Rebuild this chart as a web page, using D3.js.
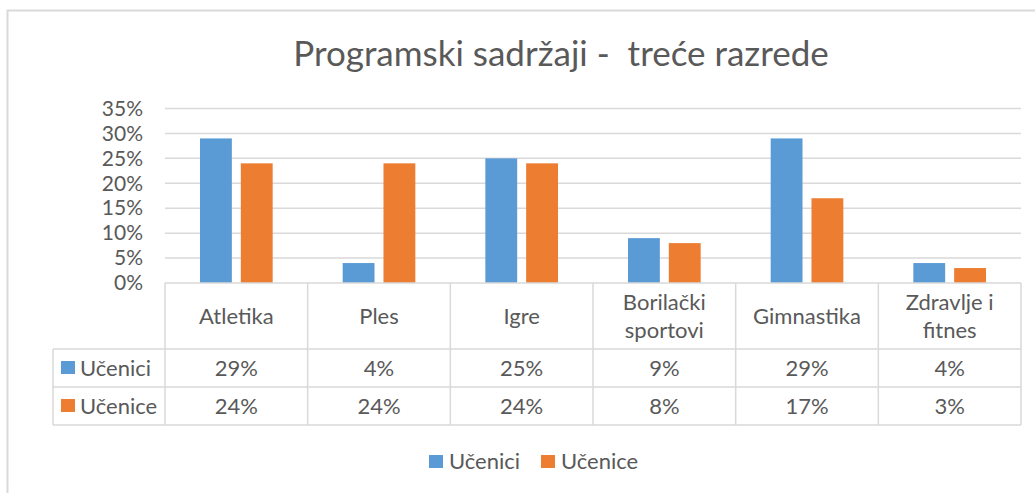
<!DOCTYPE html>
<html>
<head>
<meta charset="utf-8">
<script src="https://cdn.jsdelivr.net/npm/d3@7"></script>
<style>
  body { margin: 0; background: #fff; }
  text { font-family: Lato, "Open Sans", sans-serif; fill: #595959; }
</style>
</head>
<body>
<div id="container"></div>
<script>
const categories = ["Atletika", "Ples", "Igre", "Borilački sportovi", "Gimnastika", "Zdravlje i fitnes"]
const categoryLines = [["Atletika"], ["Ples"], ["Igre"], ["Borilački", "sportovi"], ["Gimnastika"], ["Zdravlje i", "fitnes"]]
const series = ["Učenici", "Učenice"]
const ucenici = [0.29, 0.04, 0.25, 0.09, 0.29, 0.04]
const ucenice = [0.24, 0.24, 0.24, 0.08, 0.17, 0.03]
const yTicks = [0, 0.05, 0.10, 0.15, 0.20, 0.25, 0.30, 0.35]
const colors = ["#5B9BD5", "#ED7D31"]

const width = 1035, height = 493
const grid = "#d9d9d9"
const plot = { left: 165, right: 1021, top: 108.5, bottom: 283 }
const rows = { header: 349, r1: 387, r2: 425, legendLeft: 53 }
const fontSize = 22

const values = [ucenici, ucenice]
const color = d3.scaleOrdinal().domain(series).range(colors)
const fmt = d3.format(".0%")

const svg = d3.select("#container").append("svg")
    .attr("width", width)
    .attr("height", height)

// outer chart border (left and top visible)
svg.append("path")
    .attr("d", `M${width},10.5 H7.5 V${height}`)
    .attr("fill", "none")
    .attr("stroke", grid)
    .attr("stroke-width", 2)

svg.append("text")
    .attr("x", 561)
    .attr("y", 54)
    .attr("dy", "0.35em")
    .attr("text-anchor", "middle")
    .attr("font-size", 35)
    .style("white-space", "pre")
    .text("Programski sadržaji -  treće razrede")

const y = d3.scaleLinear().domain([0, 0.35]).range([plot.bottom, plot.top])
const x0 = d3.scaleBand().domain(categories).range([plot.left, plot.right])
const x1 = d3.scaleBand().domain(series).range([35, x0.bandwidth() - 35]).paddingInner(0.22)

// gridlines
svg.append("g")
    .selectAll("line")
    .data(yTicks.filter(d => d > 0))
    .join("line")
    .attr("x1", plot.left)
    .attr("x2", plot.right)
    .attr("y1", d => y(d))
    .attr("y2", d => y(d))
    .attr("stroke", grid)
    .attr("stroke-width", 1.5)

const yAxis = svg.append("g")
    .attr("transform", `translate(${plot.left},0)`)
    .call(d3.axisLeft(y).tickValues(yTicks).tickFormat(fmt).tickSize(0).tickPadding(22))
yAxis.select(".domain").remove()
yAxis.selectAll("text")
    .attr("font-size", 21)
    .attr("font-family", "Lato")
    .attr("fill", "#595959")

// bars
const groups = svg.append("g")
    .selectAll("g")
    .data(categories)
    .join("g")
    .attr("transform", d => `translate(${x0(d)},0)`)

groups.selectAll("rect")
    .data((d, i) => series.map((s, j) => ({ s, v: values[j][i] })))
    .join("rect")
    .attr("x", d => x1(d.s))
    .attr("width", x1.bandwidth())
    .attr("y", d => y(d.v))
    .attr("height", d => y(0) - y(d.v))
    .attr("fill", d => color(d.s))

// data table
const table = svg.append("g")
    .attr("stroke", grid)
    .attr("stroke-width", 1.5)

table.append("line")
    .attr("x1", plot.left).attr("x2", plot.right)
    .attr("y1", plot.bottom).attr("y2", plot.bottom)

table.selectAll("line.h")
    .data([rows.header, rows.r1, rows.r2])
    .join("line")
    .attr("class", "h")
    .attr("x1", rows.legendLeft).attr("x2", plot.right)
    .attr("y1", d => d).attr("y2", d => d)

table.selectAll("line.v")
    .data(categories.map(c => x0(c)).concat([plot.right]))
    .join("line")
    .attr("class", "v")
    .attr("x1", d => d).attr("x2", d => d)
    .attr("y1", plot.bottom).attr("y2", rows.r2)

table.append("line")
    .attr("x1", rows.legendLeft).attr("x2", rows.legendLeft)
    .attr("y1", rows.header).attr("y2", rows.r2)

const headerMid = (plot.bottom + rows.header) / 2
svg.append("g")
    .selectAll("text")
    .data(categories)
    .join("text")
    .attr("text-anchor", "middle")
    .attr("font-size", fontSize)
    .each(function (d, i) {
        const lines = categoryLines[i]
        const t = d3.select(this)
        lines.forEach((ln, k) => {
            t.append("tspan")
                .attr("x", x0(d) + x0.bandwidth() / 2)
                .attr("y", headerMid + (k - (lines.length - 1) / 2) * 28)
                .attr("dy", "0.35em")
                .text(ln)
        })
    })

const rowMid = [(rows.header + rows.r1) / 2, (rows.r1 + rows.r2) / 2]
series.forEach((s, j) => {
    const g = svg.append("g")
    g.append("rect")
        .attr("x", 61)
        .attr("y", rowMid[j] - 7)
        .attr("width", 14)
        .attr("height", 13)
        .attr("fill", color(s))
    g.append("text")
        .attr("x", 80)
        .attr("y", rowMid[j])
        .attr("dy", "0.35em")
        .attr("font-size", fontSize)
        .text(s)
    g.selectAll("text.v")
        .data(values[j])
        .join("text")
        .attr("class", "v")
        .attr("x", (d, i) => x0(categories[i]) + x0.bandwidth() / 2)
        .attr("y", rowMid[j])
        .attr("dy", "0.35em")
        .attr("text-anchor", "middle")
        .attr("font-size", fontSize)
        .text(d => fmt(d))
})

// bottom legend
const legend = svg.append("g")
    .selectAll("g")
    .data(series)
    .join("g")
    .attr("transform", (d, i) => `translate(${429 + i * 112},461)`)

legend.append("rect")
    .attr("x", 0)
    .attr("y", -6)
    .attr("width", 14)
    .attr("height", 13)
    .attr("fill", color)

legend.append("text")
    .attr("x", 20)
    .attr("dy", "0.35em")
    .attr("font-size", fontSize)
    .text(d => d)
</script>
</body>
</html>
